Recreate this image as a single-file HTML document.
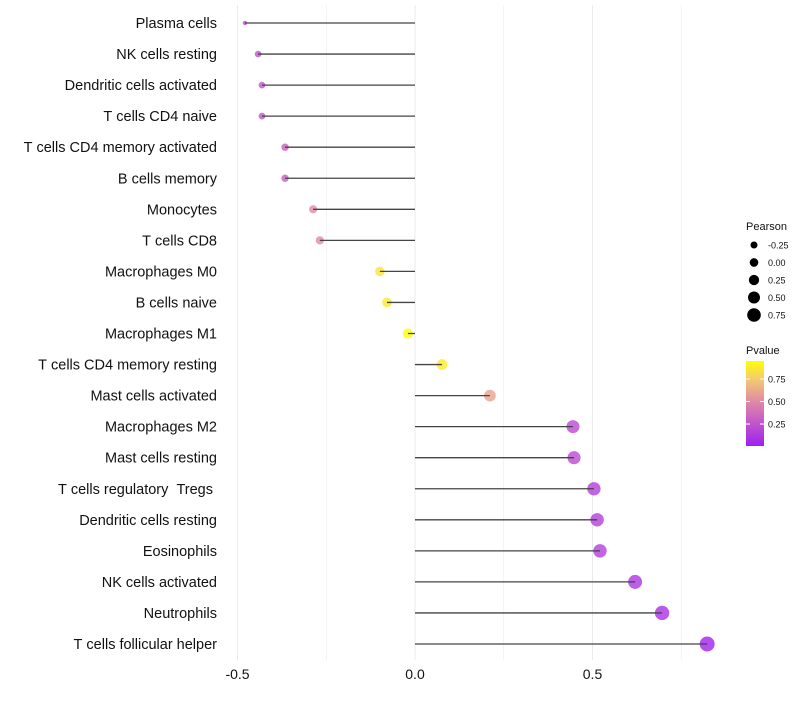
<!DOCTYPE html>
<html><head><meta charset="utf-8"><style>
body{margin:0;background:#fff;font-family:"Liberation Sans",sans-serif}
</style></head><body>
<svg id="c" width="800" height="700"></svg>
<script>
const categories=["Plasma cells","NK cells resting","Dendritic cells activated","T cells CD4 naive","T cells CD4 memory activated","B cells memory","Monocytes","T cells CD8","Macrophages M0","B cells naive","Macrophages M1","T cells CD4 memory resting","Mast cells activated","Macrophages M2","Mast cells resting","T cells regulatory  Tregs ","Dendritic cells resting","Eosinophils","NK cells activated","Neutrophils","T cells follicular helper"];
const pearson=[-0.479,-0.442,-0.431,-0.431,-0.366,-0.366,-0.287,-0.268,-0.099,-0.079,-0.020,0.076,0.211,0.445,0.448,0.504,0.513,0.521,0.620,0.696,0.823];
const pvalue=[0.2,0.25,0.25,0.25,0.3,0.3,0.5,0.5,0.85,0.87,0.95,0.88,0.6,0.2,0.2,0.15,0.15,0.15,0.1,0.08,0.01];
const xTicks=[-0.5,0,0.5];
const xGrid=[-0.5,-0.25,0,0.25,0.5,0.75];
const sizeKeys=[-0.25,0,0.25,0.5,0.75];
const pTicks=[0.25,0.5,0.75];
const NS="http://www.w3.org/2000/svg",svg=document.getElementById('c');
function mk(t,a,p){const e=document.createElementNS(NS,t);for(const k in a)e.setAttribute(k,a[k]);(p||svg).appendChild(e);return e;}
const x=v=>415+v*355;
const y=i=>23+i*31.05;
const vmin=Math.min(...pearson);
const r=v=>v===vmin?2.2:Math.sqrt(Math.max(4,26.7+35.6*v));
const pmin=0.006,pmax=0.95;
function col(p){let t=Math.max(0,Math.min(1,(p-pmin)/(pmax-pmin)));
 const s=[[0,[160,32,240]],[0.5,[222,132,170]],[0.8,[245,205,110]],[1,[255,255,0]]];
 for(let k=1;k<s.length;k++){if(t<=s[k][0]){const u=(t-s[k-1][0])/(s[k][0]-s[k-1][0]);const a=s[k-1][1],b=s[k][1];return `rgb(${a.map((c,j)=>Math.round(c+(b[j]-c)*u)).join(',')})`;}}return 'rgb(255,255,0)';}
xGrid.forEach(v=>{const g=mk('line',{x1:x(v),x2:x(v),y1:5,y2:660,stroke:'#ebebeb','stroke-width':v%0.5===0?1:0.6});

});
categories.forEach((c,i)=>{
 const t=mk('text',{x:217,y:y(i)+5,'text-anchor':'end','font-size':14.5,fill:'#111'});t.textContent=c.replace(/ /g,'\u00a0');
 
 
 const d=mk('circle',{cx:x(pearson[i]),cy:y(i),r:r(pearson[i]),fill:col(pvalue[i]),'fill-opacity':0.8});
 
 
 const l=mk('line',{x1:x(0),x2:x(pearson[i]),y1:y(i),y2:y(i),stroke:'#444','stroke-width':1.3});
 
 
});
xTicks.forEach(v=>{const t=mk('text',{x:x(v),y:679,'text-anchor':'middle','font-size':14,fill:'#111'});t.textContent=v.toFixed(1);

});
const lt=mk('text',{x:746,y:230,'font-size':11,fill:'#111'});lt.textContent='Pearson';


sizeKeys.forEach((v,i)=>{const yy=245+i*17.5;
 const c=mk('circle',{cx:754,cy:yy,r:3.5+1.1*(v+0.25)*3,fill:'#000'});
 
 
 const t=mk('text',{x:768,y:yy+3.5,'font-size':9,fill:'#111'});t.textContent=v.toFixed(2);
 
 });
const pt=mk('text',{x:746,y:354,'font-size':11,fill:'#111'});pt.textContent='Pvalue';


const defs=mk('defs',{});const gr=mk('linearGradient',{id:'pg',x1:0,y1:1,x2:0,y2:0},defs);
for(let k=0;k<=10;k++){const p=pmin+(pmax-pmin)*k/10;mk('stop',{offset:k/10,'stop-color':col(p)},gr);}
const bar=mk('rect',{x:746,y:361,width:18,height:85,fill:'url(#pg)'});


const py=p=>446-(p-pmin)/(pmax-pmin)*85;
pTicks.forEach(p=>{mk('line',{x1:746,x2:750,y1:py(p),y2:py(p),stroke:'#fff'});mk('line',{x1:760,x2:764,y1:py(p),y2:py(p),stroke:'#fff'});
 const t=mk('text',{x:768,y:py(p)+3.5,'font-size':9,fill:'#111'});t.textContent=p.toFixed(2);
 
 });
</script></body></html>
